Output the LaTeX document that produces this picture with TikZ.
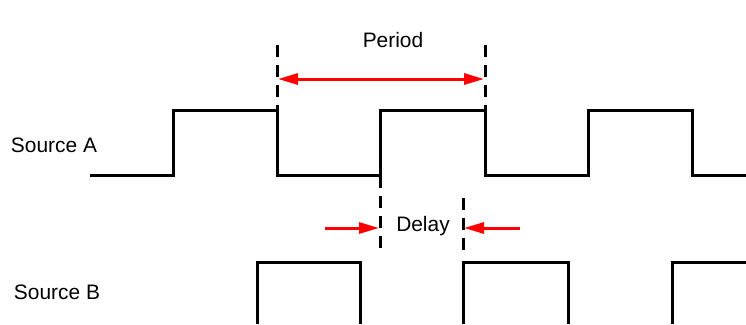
\documentclass[tikz,border=0pt]{standalone}
\usepackage{fontspec}
\setmainfont{Liberation Sans}
\usetikzlibrary{arrows.meta}
\begin{document}
\begin{tikzpicture}[x=1bp,y=-1bp,
  wave/.style={line width=3bp,black,line join=miter},
  guide/.style={line width=3bp,black,dash pattern=on 12bp off 8bp},
  measure/.style={line width=3bp,red,-{Triangle[length=20bp,width=11bp]}},
  measure2/.style={line width=3bp,red,{Triangle[length=20bp,width=11bp]}-{Triangle[length=20bp,width=11bp]}},
  lbl/.style={font=\fontsize{21}{25}\selectfont,inner sep=0pt}]
\useasboundingbox (0,0) rectangle (746,324);
% labels
\node[lbl] (srcA) at (54,145) {Source A};
\node[lbl] (srcB) at (57,292) {Source B};
\node[lbl] (period) at (393,40) {Period};
\node[lbl] (delay) at (423,226) {Delay};
% source A waveform
\draw[wave] (90,175) -- (173,175) -- (173,110) -- (277,110) -- (277,175) -- (380,175) -- (380,110) -- (485,110) -- (485,175) -- (588,175) -- (588,110) -- (692,110) -- (692,175) -- (746,175);
% source B waveform
\draw[wave] (257,324) -- (257,262) -- (360,262) -- (360,324);
\draw[wave] (463,324) -- (463,262) -- (568,262) -- (568,324);
\draw[wave] (672,324) -- (672,262) -- (746,262);
% dashed guides
\coordinate (p1t) at (277,45);
\coordinate (p1b) at (277,110);
\coordinate (p2t) at (485,45);
\coordinate (p2b) at (485,110);
\coordinate (d1t) at (380,176);
\coordinate (d1b) at (380,254);
\coordinate (d2t) at (463,198);
\coordinate (d2b) at (463,256);
\draw[guide] (p1t) -- (p1b);
\draw[guide] (p2t) -- (p2b);
\draw[guide] (d1t) -- (d1b);
\draw[guide] (d2t) -- (d2b);
% period arrow
\coordinate (pa1) at (278,79);
\coordinate (pa2) at (484,79);
\draw[measure2] (pa1) -- (pa2);
% delay arrows
\coordinate (da1) at (325,228);
\coordinate (da1e) at (379,228);
\coordinate (da2) at (520,228);
\coordinate (da2e) at (464,228);
\draw[measure] (da1) -- (da1e);
\draw[measure] (da2) -- (da2e);
\end{tikzpicture}
\end{document}
